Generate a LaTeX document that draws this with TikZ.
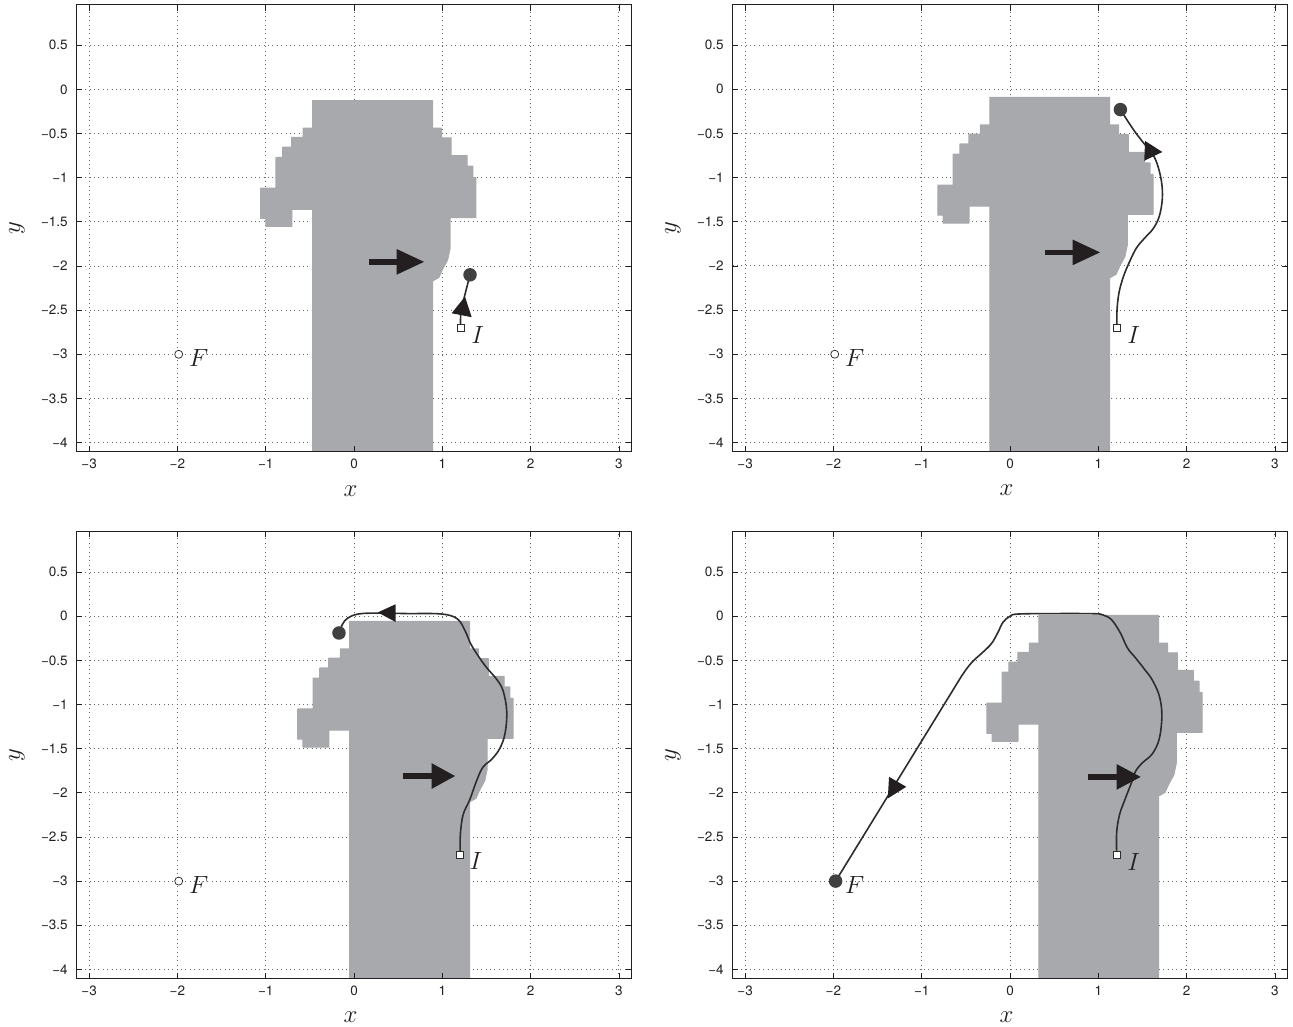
\documentclass[tikz,border=0pt]{standalone}
\usepackage{fontspec}
\newfontfamily\tickfont{TeX Gyre Heros}
\definecolor{shapegray}{RGB}{167,169,172}
\definecolor{ink}{RGB}{35,31,32}
\definecolor{trajc}{RGB}{45,45,45}
\definecolor{dotc}{RGB}{105,105,105}
\definecolor{endc}{RGB}{64,64,64}
\tikzset{
  gridline/.style={dotc, line width=0.85pt, dash pattern=on 0.85pt off 3.5pt},
  axisbox/.style={ink, line width=1.1pt},
  tickmark/.style={ink, line width=0.7pt},
  ticklab/.style={font=\tickfont\fontsize{13.5}{15}\selectfont, text=ink, inner sep=0pt},
  mathlab/.style={font=\fontsize{26}{30}\selectfont, text=ink, inner sep=0pt},
  traj/.style={trajc, line width=1.6pt, line join=round, line cap=round},
  headtri/.style={fill=ink},
  endpt/.style={circle, fill=endc, minimum size=13.5pt, inner sep=0pt},
  fmark/.style={circle, draw=ink, fill=white, line width=0.7pt, minimum size=8pt, inner sep=0pt},
  imark/.style={rectangle, draw=trajc, fill=white, line width=0.7pt, minimum size=7pt, inner sep=0pt},
  robot/.style={fill=shapegray, draw=shapegray, line width=1.2pt, line join=round},
}
\newcommand\panelgrid{%
  \foreach \gx in {-3,-2,-1,0,1,2,3} {\draw[gridline] (\gx,-4.105) -- (\gx,0.957);}
  \foreach \gy in {0.5,0,-0.5,-1,-1.5,-2,-2.5,-3,-3.5,-4} {\draw[gridline] (-3.14,\gy) -- (3.14,\gy);}
}
\newcommand\panelbox[1]{%
  \draw[axisbox] (-3.14,-4.105) rectangle (3.14,0.957);
  \foreach \gx in {-3,-2,-1,0,1,2,3} {
    \draw[tickmark] (\gx,-4.105) -- ++(0,0.065);
    \draw[tickmark] (\gx,0.957) -- ++(0,-0.065);}
  \foreach \gy in {0.5,0,-0.5,-1,-1.5,-2,-2.5,-3,-3.5,-4} {
    \draw[tickmark] (-3.14,\gy) -- ++(0.065,0);
    \draw[tickmark] (3.14,\gy) -- ++(-0.065,0);}
  \foreach \gx/\lab [count=\k] in {-3/−3,-2/−2,-1/−1,0/0,1/1,2/2,3/3}
    {\node[ticklab] (#1xt\k) at (\gx,-4.24) {\lab};}
  \foreach \gy/\lab [count=\k] in {0.5/0.5,0/0,-0.5/−0.5,-1/−1,-1.5/−1.5,-2/−2,-2.5/−2.5,-3/−3,-3.5/−3.5,-4/−4}
    {\node[ticklab, anchor=east] (#1yt\k) at (-3.24,\gy) {\lab};}
  \node[mathlab] (#1xl) at (-0.04,-4.545) {$x$};
  \node[mathlab, rotate=90] (#1yl) at (-3.817,-1.574) {$y$};
}
\newcommand\robotshape[2]{%
  \begin{scope}
    \clip (-3.14,-4.105) rectangle (3.14,0.957);
    \filldraw[robot, shift={(#1,#2)}] (-0.468,-0.127) -- (0.888,-0.127) -- (0.888,-0.44) -- (0.99,-0.44)
      -- (0.99,-0.55) -- (1.10,-0.55) -- (1.10,-0.75) -- (1.28,-0.75) -- (1.28,-0.87) -- (1.345,-0.87)
      -- (1.345,-1.0) -- (1.38,-1.0) -- (1.38,-1.45) -- (1.087,-1.45) -- (1.087,-1.80) -- (1.06,-1.93)
      -- (1.0,-2.04) -- (0.96,-2.13) -- (0.888,-2.17) -- (0.888,-4.5) -- (-0.468,-4.5)
      -- (-0.468,-1.357) -- (-0.705,-1.357) -- (-0.705,-1.55) -- (-0.997,-1.55) -- (-0.997,-1.46)
      -- (-1.057,-1.46) -- (-1.057,-1.12) -- (-0.883,-1.12) -- (-0.883,-0.77) -- (-0.807,-0.77)
      -- (-0.807,-0.655) -- (-0.705,-0.655) -- (-0.705,-0.545) -- (-0.574,-0.545) -- (-0.574,-0.44)
      -- (-0.468,-0.44) -- cycle;
  \end{scope}
}
% start x, head base x, tip x, y
\newcommand\forcearrow[4]{%
  \fill[ink] (#1,#4-0.032) rectangle (#2+0.01,#4+0.032);
  \fill[ink] (#2,#4+0.145) -- (#3,#4) -- (#2,#4-0.145) -- cycle;
}
\begin{document}
\begin{tikzpicture}
\useasboundingbox (0,0) rectangle (1293pt,-1027pt);
\fill[white] (0,0) rectangle (1293pt,-1027pt);

% ---------- Panel 1 (top left)
\begin{scope}[shift={(354pt,-89.4pt)}, x=88.3pt, y=88.3pt]
  \panelgrid
  \robotshape{0}{0}
  \panelbox{a}
  \forcearrow{0.166}{0.484}{0.793}{-1.953}
  \draw[traj] plot[smooth, tension=0.6] coordinates {(1.208,-2.70) (1.21,-2.53) (1.25,-2.35) (1.314,-2.10)};
  \fill[headtri] (1.257,-2.347) -- (1.106,-2.535) -- (1.333,-2.58) -- cycle;
  \node[imark] (aI) at (1.208,-2.70) {};
  \node[fmark] (aF) at (-1.985,-3.0) {};
  \node[endpt] (aE) at (1.314,-2.10) {};
  \node[mathlab] (aIl) at (1.40,-2.78) {$I$};
  \node[mathlab] (aFl) at (-1.76,-3.04) {$F$};
\end{scope}

% ---------- Panel 2 (top right)
\begin{scope}[shift={(1010pt,-89.3pt)}, x=88.3pt, y=88.3pt]
  \panelgrid
  \robotshape{0.24}{0.035}
  \panelbox{b}
  \forcearrow{0.396}{0.71}{1.019}{-1.847}
  \draw[traj] plot[smooth, tension=0.6] coordinates {(1.212,-2.70) (1.212,-2.50) (1.235,-2.30) (1.285,-2.12)
    (1.355,-1.95) (1.43,-1.80) (1.52,-1.69) (1.62,-1.58) (1.69,-1.44) (1.725,-1.24) (1.715,-1.04)
    (1.665,-0.84) (1.605,-0.72) (1.515,-0.61) (1.40,-0.46) (1.25,-0.23)};
  \fill[headtri] (1.53,-0.585) -- (1.52,-0.81) -- (1.725,-0.71) -- cycle;
  \node[imark] (bI) at (1.212,-2.70) {};
  \node[fmark] (bF) at (-1.985,-3.0) {};
  \node[endpt] (bE) at (1.25,-0.23) {};
  \node[mathlab] (bIl) at (1.40,-2.78) {$I$};
  \node[mathlab] (bFl) at (-1.76,-3.04) {$F$};
\end{scope}

% ---------- Panel 3 (bottom left)
\begin{scope}[shift={(354pt,-616.2pt)}, x=88.3pt, y=88.3pt]
  \panelgrid
  \robotshape{0.42}{0.068}
  \panelbox{c}
  \forcearrow{0.558}{0.88}{1.144}{-1.81}
  \draw[traj] plot[smooth, tension=0.6] coordinates {(1.204,-2.70) (1.204,-2.48) (1.235,-2.25) (1.31,-2.08)
    (1.39,-1.86) (1.46,-1.71) (1.56,-1.62) (1.65,-1.50) (1.71,-1.33) (1.73,-1.08) (1.69,-0.85)
    (1.62,-0.72) (1.50,-0.58) (1.40,-0.44) (1.32,-0.31) (1.26,-0.17) (1.17,-0.03) (0.99,0.025)
    (0.6,0.03) (0.25,0.035) (0.05,0.025) (-0.07,-0.02) (-0.13,-0.09) (-0.17,-0.19)};
  \fill[headtri] (0.27,0.043) -- (0.47,0.135) -- (0.47,-0.065) -- cycle;
  \node[imark] (cI) at (1.204,-2.70) {};
  \node[fmark] (cF) at (-1.985,-3.0) {};
  \node[endpt] (cE) at (-0.17,-0.19) {};
  \node[mathlab] (cIl) at (1.38,-2.77) {$I$};
  \node[mathlab] (cFl) at (-1.76,-3.04) {$F$};
\end{scope}

% ---------- Panel 4 (bottom right)
\begin{scope}[shift={(1010pt,-616.2pt)}, x=88.3pt, y=88.3pt]
  \panelgrid
  \robotshape{0.795}{0.135}
  \panelbox{d}
  \draw[traj] plot[smooth, tension=0.6] coordinates {(1.208,-2.70) (1.208,-2.45) (1.24,-2.25) (1.30,-2.08)
    (1.37,-1.90) (1.42,-1.76) (1.50,-1.66) (1.61,-1.56) (1.69,-1.39) (1.72,-1.12) (1.69,-0.90)
    (1.61,-0.72) (1.53,-0.61) (1.42,-0.47) (1.33,-0.36) (1.25,-0.19) (1.15,-0.04) (1.05,0.015)
    (0.95,0.028) (0.55,0.03) (0.1,0.025) (0.0,0.0) (-0.08,-0.07) (-0.14,-0.19) (-0.21,-0.31)
    (-0.31,-0.41) (-0.41,-0.50) (-0.48,-0.58) (-0.55,-0.68)} -- (-1.975,-3.0);
  \forcearrow{0.887}{1.208}{1.48}{-1.82}
  \fill[headtri] (-1.384,-2.064) -- (-1.370,-1.819) -- (-1.175,-1.932) -- cycle;
  \node[imark] (dI) at (1.208,-2.70) {};
  \node[endpt] (dE) at (-1.975,-3.0) {};
  \node[mathlab] (dIl) at (1.40,-2.78) {$I$};
  \node[mathlab] (dFl) at (-1.76,-3.04) {$F$};
\end{scope}
\end{tikzpicture}
\end{document}
